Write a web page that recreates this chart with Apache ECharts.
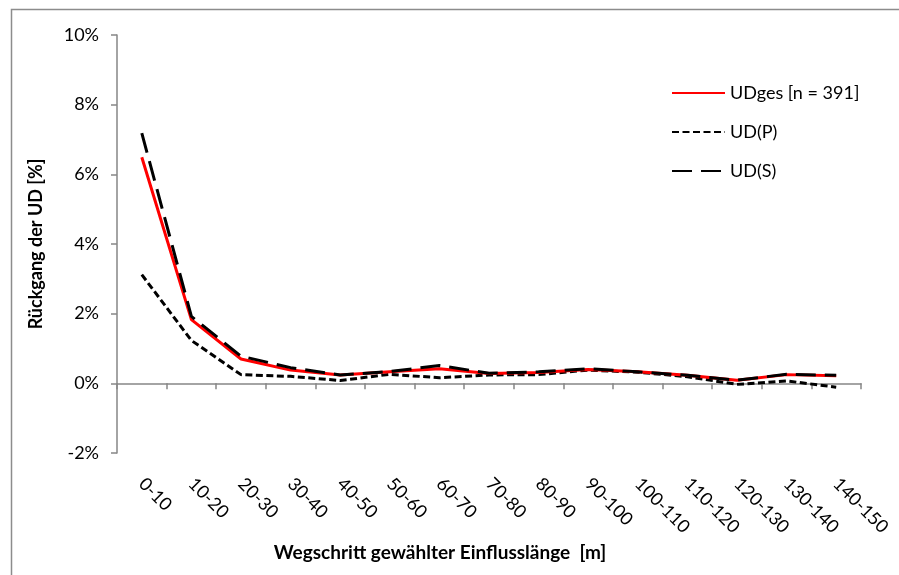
<!DOCTYPE html>
<html>
<head>
<meta charset="utf-8">
<script src="https://cdn.jsdelivr.net/npm/echarts@6/dist/echarts.min.js"></script>
<style>
html,body{margin:0;padding:0;background:#fff;}
#c{width:899px;height:575px;}
</style>
</head>
<body>
<div id="c"></div>
<script>
var categories = ['0-10','10-20','20-30','30-40','40-50','50-60','60-70','70-80','80-90','90-100','100-110','110-120','120-130','130-140','140-150'];
var udGes = [6.49, 1.83, 0.70, 0.38, 0.24, 0.33, 0.42, 0.28, 0.31, 0.40, 0.33, 0.23, 0.09, 0.25, 0.22];
var udP   = [3.12, 1.23, 0.25, 0.20, 0.08, 0.26, 0.16, 0.24, 0.25, 0.38, 0.32, 0.19, -0.03, 0.07, -0.11];
var udS   = [7.18, 1.92, 0.78, 0.45, 0.24, 0.34, 0.51, 0.29, 0.33, 0.42, 0.33, 0.23, 0.09, 0.26, 0.23];
var yTicks = {min: -2, max: 10, interval: 2};
var seriesNames = ['UDges [n = 391]', 'UD(P)', 'UD(S)'];
var xTitle = 'Wegschritt gewählter Einflusslänge  [m]';
var yTitle = 'Rückgang der UD [%]';

var FONT = 'Lato';
var chart = echarts.init(document.getElementById('c'), null, {renderer: 'canvas'});
chart.setOption({
  animation: false,
  backgroundColor: '#ffffff',
  textStyle: {fontFamily: FONT},
  graphic: [{
    type: 'rect', left: 9, top: 7, shape: {x: 0, y: 0, width: 1000, height: 700},
    style: {fill: 'none', stroke: '#8c8c8c', lineWidth: 1.5}, silent: true, z: -10
  }],
  grid: {left: 117, right: 38, top: 35, bottom: 122, containLabel: false, outerBoundsMode: 'none'},
  legend: {
    orient: 'vertical', left: 666, top: 79, itemWidth: 53, itemHeight: 12, itemGap: 21,
    textStyle: {fontFamily: FONT, fontSize: 18, color: '#000'},
    itemStyle: {opacity: 0},
    data: seriesNames
  },
  xAxis: {
    type: 'category', data: categories, boundaryGap: true,
    axisLine: {onZero: true, lineStyle: {color: '#868686', width: 1.5}},
    axisTick: {show: true, length: 6, lineStyle: {color: '#868686', width: 1.5}},
    axisLabel: {rotate: -45, interval: 0, margin: 28, fontFamily: FONT, fontSize: 18, color: '#000'},
    name: xTitle, nameLocation: 'middle', nameGap: 89,
    nameTextStyle: {fontFamily: FONT, fontSize: 19, fontWeight: 'bold', color: '#000', padding: [0, 98, 0, 0]}
  },
  yAxis: {
    type: 'value', min: yTicks.min, max: yTicks.max, interval: yTicks.interval,
    splitLine: {show: false},
    axisLine: {show: true, lineStyle: {color: '#868686', width: 1.5}},
    axisTick: {show: true, length: 6, lineStyle: {color: '#868686', width: 1.5}},
    axisLabel: {formatter: '{value}%', margin: 18, fontFamily: FONT, fontSize: 18, color: '#000'},
    name: yTitle, nameLocation: 'middle', nameGap: 72, nameRotate: 90,
    nameTextStyle: {fontFamily: FONT, fontSize: 18, fontWeight: 'bold', color: '#000'}
  },
  series: [
    {name: seriesNames[0], type: 'line', data: udGes, symbol: 'none', z: 3,
     lineStyle: {color: '#ff0000', width: 3, type: 'solid'}, itemStyle: {color: '#ff0000'}},
    {name: seriesNames[1], type: 'line', data: udP, symbol: 'none', z: 2,
     lineStyle: {color: '#000000', width: 3, type: [7, 3.5]}, itemStyle: {color: '#000'}},
    {name: seriesNames[2], type: 'line', data: udS, symbol: 'none', z: 4,
     lineStyle: {color: '#000000', width: 3, type: [20, 9]}, itemStyle: {color: '#000'}}
  ]
});
</script>
</body>
</html>
